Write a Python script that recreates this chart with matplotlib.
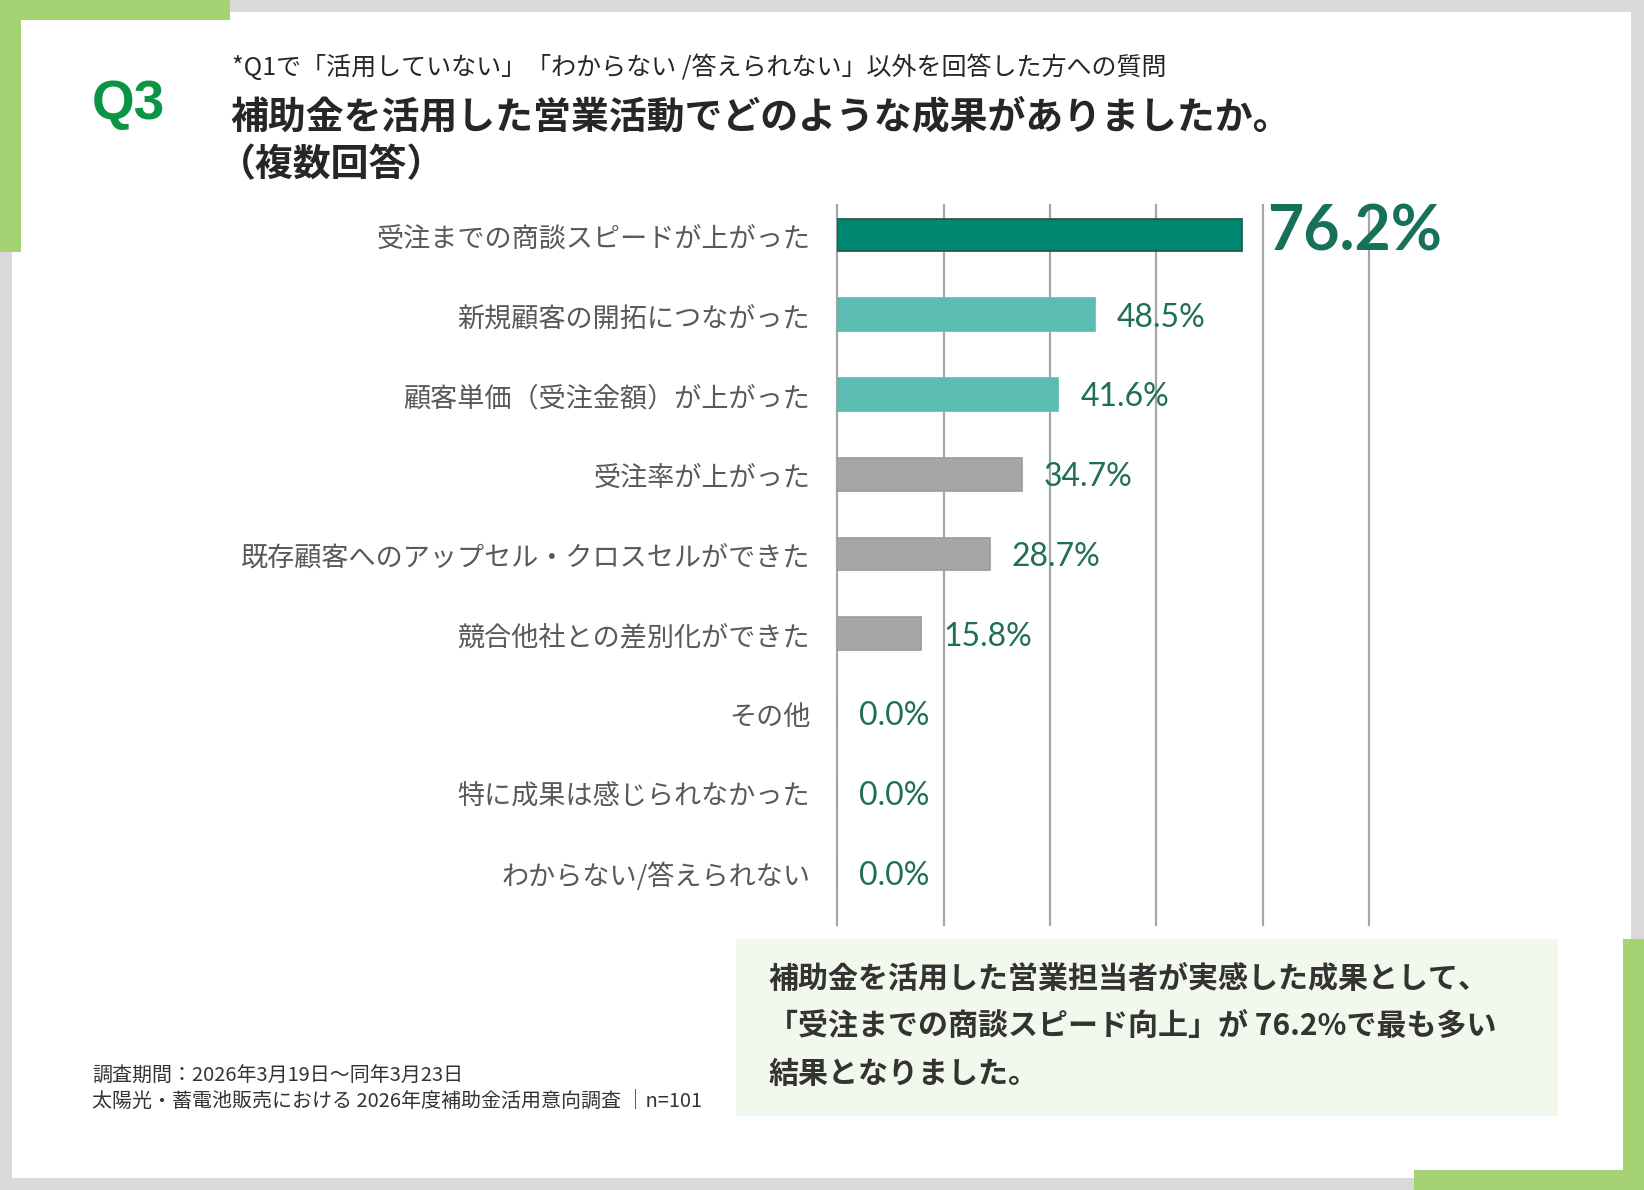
import matplotlib
matplotlib.use('Agg')
import matplotlib.pyplot as plt
from matplotlib.patches import Rectangle

# ---------------- data ----------------
categories = [
    "受注までの商談スピードが上がった",
    "新規顧客の開拓につながった",
    "顧客単価（受注金額）が上がった",
    "受注率が上がった",
    "既存顧客へのアップセル・クロスセルができた",
    "競合他社との差別化ができた",
    "その他",
    "特に成果は感じられなかった",
    "わからない/答えられない",
]
values = [76.2, 48.5, 41.6, 34.7, 28.7, 15.8, 0.0, 0.0, 0.0]
bar_colors = ["#00876f", "#5bbdb2", "#5bbdb2", "#a6a6a6", "#a6a6a6",
              "#a6a6a6", "#a6a6a6", "#a6a6a6", "#a6a6a6"]
edge_colors = ["#1d5445", "#5bbdb2", "#5bbdb2", "#9a9a9a", "#9a9a9a",
               "#9a9a9a", "#9a9a9a", "#9a9a9a", "#9a9a9a"]
xticks = [0, 20, 40, 60, 80, 100]
value_labels = [f"{v:.1f}%" for v in values]

question = "Q3"
subtitle = "*Q1で「活用していない」「わからない /答えられない」以外を回答した方への質問"
title_lines = ["補助金を活用した営業活動でどのような成果がありましたか。", "（複数回答）"]
footnotes = ["調査期間：2026年3月19日～同年3月23日",
             "太陽光・蓄電池販売における 2026年度補助金活用意向調査 │n=101"]
callout_lines = ["補助金を活用した営業担当者が実感した成果として、",
                 "「受注までの商談スピード向上」が 76.2%で最も多い",
                 "結果となりました。"]

# ---------------- figure ----------------
plt.rcParams['font.family'] = ['Noto Sans CJK JP', 'DejaVu Sans']
W, H = 1644, 1190
fig = plt.figure(figsize=(W / 100, H / 100), dpi=100, facecolor="#d9d9d9")

GREEN = "#a5d273"


def rect(x, y, w, h, color, z):
    fig.add_artist(Rectangle((x / W, 1 - (y + h) / H), w / W, h / H,
                             transform=fig.transFigure, facecolor=color,
                             edgecolor="none", zorder=z))


def fx(x):
    return x / W


def fy(y):
    return 1 - y / H


# frame
rect(12, 12, 1619, 1166, "white", -10)
rect(0, 0, 230, 20, GREEN, -9)
rect(0, 0, 21, 252, GREEN, -9)
rect(1414, 1170, 230, 20, GREEN, -9)
rect(1623, 939, 21, 251, GREEN, -9)
# callout box
rect(736, 939, 822, 177, "#f2f8ec", -8)

# ---------------- axes ----------------
x0, x1 = 837.3, 1369.0
ytop, ybot = 205.0, 925.0
ax = fig.add_axes([fx(x0), fy(ybot), (x1 - x0) / W, (ybot - ytop) / H])
ax.set_facecolor("none")
ypos = list(range(len(categories)))
ax.barh(ypos, values, height=0.41, color=bar_colors, edgecolor=edge_colors,
        linewidth=1.2, zorder=3)
ax.set_xlim(0, 100)
ax.set_ylim(8.652, -0.376)
ax.set_xticks(xticks)
ax.grid(axis="x", color="#a6a6a6", linewidth=1.6)
ax.grid(axis="y", visible=False)
ax.set_axisbelow(True)
for gl in ax.get_xgridlines():
    gl.set_clip_on(False)
for s in ax.spines.values():
    s.set_visible(False)
ax.tick_params(axis="x", length=0, labelbottom=False)
ax.set_yticks([])

# category labels (right-aligned just left of the axis)
for i, cat in enumerate(categories):
    ax.annotate(cat, xy=(0, i), xycoords=("axes fraction", "data"),
                xytext=(-27, -4), textcoords="offset pixels",
                ha="right", va="center", fontsize=19.5, color="#595959",
                annotation_clip=False)

for i, (v, lab) in enumerate(zip(values, value_labels)):
    if i == 0:
        ax.annotate(lab, xy=(v, i), xytext=(25, 2), textcoords="offset pixels",
                    ha="left", va="center", fontsize=45, fontweight="bold",
                    color="#16705a", family=["Lato", "DejaVu Sans"],
                    annotation_clip=False)
    else:
        ax.annotate(lab, xy=(v, i), xytext=(22, -3), textcoords="offset pixels",
                    ha="left", va="center", fontsize=23,
                    color="#1f6e5a", family=["Lato", "DejaVu Sans"],
                    annotation_clip=False)

# ---------------- texts ----------------
fig.text(fx(92), fy(119), question, family=["Liberation Sans", "DejaVu Sans"],
         fontweight="bold", fontsize=39.5, color="#0b9444", va="baseline", ha="left")
fig.text(fx(232), fy(68), subtitle, fontsize=18, color="#262626",
         va="center", ha="left")
fig.text(fx(230), fy(117), title_lines[0], fontsize=27.3, fontweight="bold",
         color="#262626", va="center", ha="left")
fig.text(fx(218), fy(165), title_lines[1], fontsize=27.3, fontweight="bold",
         color="#262626", va="center", ha="left")

fig.text(fx(92), fy(1076), footnotes[0], fontsize=14.4, color="#333333",
         va="center", ha="left")
fig.text(fx(92), fy(1102), footnotes[1], fontsize=14.4, color="#333333",
         va="center", ha="left")

for k, line in enumerate(callout_lines):
    fig.text(fx(768), fy(979 + 47.3 * k), line, fontsize=21.6, fontweight="bold",
             color="#333333", va="center", ha="left")

fig.savefig("out.png", dpi=100, facecolor=fig.get_facecolor())
